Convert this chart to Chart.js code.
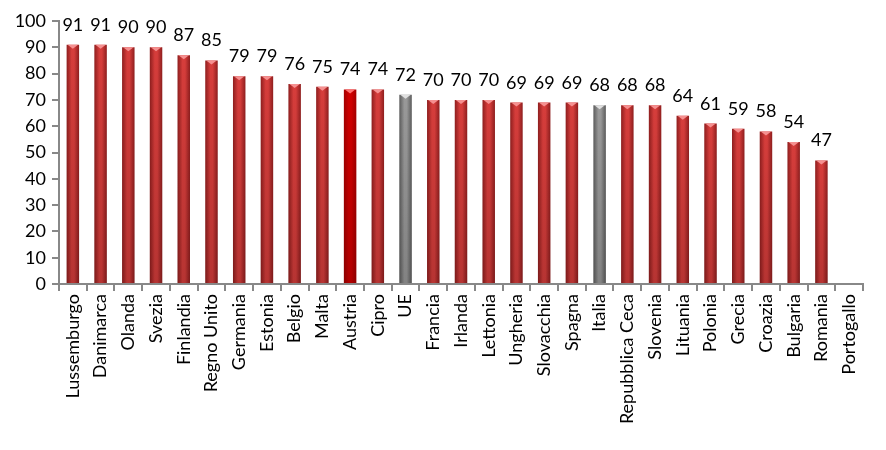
<!DOCTYPE html>
<html>
<head>
<meta charset="utf-8">
<script src="https://cdn.jsdelivr.net/npm/chart.js@4.4.0/dist/chart.umd.min.js"></script>
<style>
  html, body { margin: 0; padding: 0; background: #fff; }
  #wrap { width: 886px; height: 450px; }
</style>
</head>
<body>
<div id="wrap"><canvas id="BarChart" width="886" height="450"></canvas></div>
<script>
const paesi = ['Lussemburgo','Danimarca','Olanda','Svezia','Finlandia','Regno Unito','Germania','Estonia','Belgio','Malta','Austria','Cipro','UE','Francia','Irlanda','Lettonia','Ungheria','Slovacchia','Spagna','Italia','Repubblica Ceca','Slovenia','Lituania','Polonia','Grecia','Croazia','Bulgaria','Romania','Portogallo'];
const valori = [91,91,90,90,87,85,79,79,76,75,74,74,72,70,70,70,69,69,69,68,68,68,64,61,59,58,54,47,null];
const yTicks = [0,10,20,30,40,50,60,70,80,90,100];

const FONT = 'Lato, "Open Sans", sans-serif';

// colour scheme per bar: normal red, highlighted (Austria), grey (UE, Italia)
function palette(name) {
  if (name === 'Austria') return ['#a30000', '#d00000', '#ff7070'];
  if (name === 'UE' || name === 'Italia') return ['#5c5c5c', '#999999', '#e0e0e0'];
  return ['#8f1e1e', '#d63d3b', '#f59090'];
}

function barFill(ctx) {
  if (ctx.type !== 'data') return '#c33';
  const chart = ctx.chart;
  const x = chart.scales.x;
  if (!x || !(x.width > 0)) return '#c33';
  const cx = x.getPixelForValue(ctx.dataIndex);
  if (!isFinite(cx)) return '#c33';
  const w = x.width / paesi.length * 0.45;
  const c = palette(paesi[ctx.dataIndex]);
  const g = chart.ctx.createLinearGradient(cx - w / 2, 0, cx + w / 2, 0);
  g.addColorStop(0, c[0]);
  g.addColorStop(0.4, c[1]);
  g.addColorStop(0.6, c[1]);
  g.addColorStop(1, c[0]);
  return g;
}

const decorPlugin = {
  id: 'decor',
  afterDatasetsDraw(chart) {
    const ctx = chart.ctx;
    const meta = chart.getDatasetMeta(0);
    ctx.save();
    meta.data.forEach((bar, i) => {
      if (valori[i] == null) return;
      const left = bar.x - bar.width / 2;
      // darken towards bottom
      const vg = ctx.createLinearGradient(0, bar.y, 0, bar.base);
      vg.addColorStop(0, 'rgba(0,0,0,0)');
      vg.addColorStop(1, 'rgba(0,0,0,0.15)');
      ctx.fillStyle = vg;
      ctx.fillRect(left, bar.y, bar.width, bar.base - bar.y);
      // small bevel triangle on top
      ctx.fillStyle = palette(paesi[i])[2];
      ctx.beginPath();
      ctx.moveTo(left + 1, bar.y);
      ctx.lineTo(left + bar.width - 1, bar.y);
      ctx.lineTo(bar.x, bar.y + 4);
      ctx.closePath();
      ctx.fill();
      // value label
      ctx.fillStyle = '#000';
      ctx.font = '18px ' + FONT;
      ctx.textAlign = 'center';
      ctx.textBaseline = 'alphabetic';
      ctx.fillText(String(valori[i]), bar.x, bar.y - 14);
    });
    ctx.restore();
  }
};

const BarChart = document.getElementById('BarChart').getContext('2d');
const chartv = new Chart(BarChart, {
  type: 'bar',
  data: {
    labels: paesi,
    datasets: [{
      data: valori,
      backgroundColor: barFill,
      barPercentage: 0.45,
      categoryPercentage: 1,
    }]
  },
  options: {
    responsive: false,
    animation: false,
    layout: { padding: { left: 12, right: 23, top: 21, bottom: 0 } },
    plugins: {
      legend: { display: false },
      tooltip: { enabled: false },
    },
    scales: {
      x: {
        offset: true,
        grid: { display: true, drawOnChartArea: false, drawTicks: true, tickLength: 7, color: '#888', lineWidth: 2, offset: true },
        border: { color: '#888', width: 2 },
        ticks: {
          color: '#000',
          font: { family: FONT, size: 18 },
          minRotation: 90,
          maxRotation: 90,
          autoSkip: false,
          padding: 3,
        },
        afterFit(scale) { scale.height = 166; },
      },
      y: {
        min: 0,
        max: 100,
        afterBuildTicks(scale) { scale.ticks = yTicks.map(v => ({ value: v })); },
        grid: { display: true, drawOnChartArea: false, tickLength: 7, color: '#888', lineWidth: 2 },
        border: { color: '#888', width: 2 },
        ticks: {
          color: '#000',
          font: { family: FONT, size: 18 },
          padding: 6,
        },
        afterFit(scale) { scale.width = 47; },
      }
    }
  },
  plugins: [decorPlugin]
});
</script>
</body>
</html>
